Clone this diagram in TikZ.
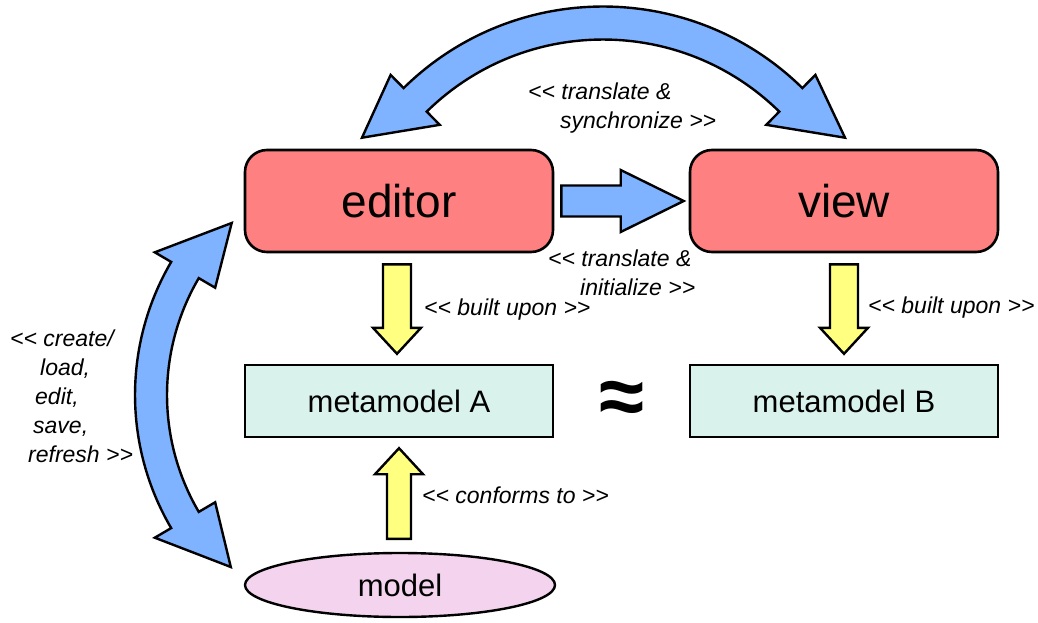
\documentclass[tikz,border=0pt]{standalone}
\usepackage{fontspec}
\setmainfont{Liberation Sans}
\usetikzlibrary{calc, positioning, shapes.geometric}

\definecolor{toolred}{HTML}{FF8080}
\definecolor{metamint}{HTML}{DAF2EC}
\definecolor{modelpink}{HTML}{F3D3EE}
\definecolor{arrowblue}{HTML}{80B3FF}
\definecolor{arrowyellow}{HTML}{FFFF80}

% straight block arrow: style, start, tip, shaft half width, head half width, head length
\newcommand{\blockarrow}[6]{%
	\coordinate (ba-s) at #2;
	\coordinate (ba-t) at #3;
	\coordinate (ba-h) at ($(ba-t)!#6!(ba-s)$);
	\filldraw[#1] ($(ba-s)!#4!90:(ba-t)$) -- ($(ba-h)!#4!90:(ba-t)$) -- ($(ba-h)!#5!90:(ba-t)$)
		-- (ba-t) -- ($(ba-h)!#5!-90:(ba-t)$) -- ($(ba-h)!#4!-90:(ba-t)$) -- ($(ba-s)!#4!-90:(ba-t)$) -- cycle;
}

\tikzset{
	tool/.style={draw, line width=2.6pt, rounded corners=22pt, fill=toolred,
		minimum width=308pt, minimum height=102pt, font=\fontsize{46}{50}\selectfont},
	meta/.style={draw, line width=2.4pt, fill=metamint,
		minimum width=308pt, minimum height=72pt, font=\fontsize{31}{36}\selectfont},
	stereo/.style={font=\fontsize{23}{29}\selectfont\itshape, align=left, inner sep=0pt, anchor=west},
	bluearrow/.style={draw, line width=2.4pt, fill=arrowblue},
	yellowarrow/.style={draw, line width=2.4pt, fill=arrowyellow},
}

\begin{document}
\begin{tikzpicture}[x=1pt, y=-1pt]
	\useasboundingbox (0,0) rectangle (1038,623);

	\node[tool] (editor) at (399,201) {editor};
	\node[tool] (view) at (844,201) {view};
	\node[meta] (metaA) at (399,401) {metamodel A};
	\node[meta] (metaB) at (844,401) {metamodel B};
	\node[ellipse, draw, line width=2.4pt, fill=modelpink, minimum width=310pt, minimum height=64pt,
		font=\fontsize{31}{36}\selectfont] (model) at (400,585) {model};
	\node[font=\fontsize{82}{82}\selectfont\bfseries] (approx) at (622,403) {≈};

	% translate & synchronize
	\coordinate (edtip) at ($(editor.north)+(-37,-11)$);
	\coordinate (vwtip) at ($(view.north)+(1,-11)$);
	\coordinate (topc) at (603,291);
	\filldraw[bluearrow] ($(topc)+(225.5:284.5)$) arc[start angle=225.5, end angle=314.5, radius=284.5]
		-- ($(topc)+(314.5:303)$) -- (vwtip) -- ($(topc)+(314.5:233)$) -- ($(topc)+(314.5:251.5)$)
		arc[start angle=314.5, end angle=225.5, radius=251.5]
		-- ($(topc)+(225.5:233)$) -- (edtip) -- ($(topc)+(225.5:303)$) -- cycle;

	% create/load, edit, save, refresh
	\coordinate (uptip) at ($(editor.west)+(-12,22)$);
	\coordinate (lowtip) at ($(model.west)+(-13,-18)$);
	\coordinate (leftc) at (398,395);
	\filldraw[bluearrow] ($(leftc)+(149.6:263)$) arc[start angle=149.6, end angle=210.4, radius=263]
		-- ($(leftc)+(210.4:282)$) -- (uptip) -- ($(leftc)+(210.4:212)$) -- ($(leftc)+(210.4:231)$)
		arc[start angle=210.4, end angle=149.6, radius=231]
		-- ($(leftc)+(149.6:212)$) -- (lowtip) -- ($(leftc)+(149.6:282)$) -- cycle;

	\blockarrow{bluearrow}{($(editor.east)+(7,0)$)}{($(view.west)+(-5,0)$)}{15.5pt}{31pt}{63pt}
	\blockarrow{yellowarrow}{($(editor.south)+(-2,11)$)}{($(metaA.north)+(-2,-10)$)}{14pt}{24pt}{26pt}
	\blockarrow{yellowarrow}{($(view.south)+(0,11)$)}{($(metaB.north)+(0,-10)$)}{14pt}{24pt}{26pt}
	\blockarrow{yellowarrow}{($(model.north)+(-1,-13)$)}{($(metaA.south)+(0,10)$)}{12pt}{24pt}{26pt}

	\node[stereo] (sync) at (528,108) {<{}< translate \&\\\hspace*{32pt}synchronize >{}>};
	\node[stereo] (init) at (548,273) {<{}< translate \&\\\hspace*{32pt}initialize >{}>};
	\node[stereo] (builtA) at (424,310) {<{}< built upon >{}>};
	\node[stereo] (builtB) at (868,308) {<{}< built upon >{}>};
	\node[stereo] (conforms) at (422,495) {<{}< conforms to >{}>};
	\node[stereo] (usage) at (10,396) {<{}< create/\\\hspace*{30pt}load,\\\hspace*{25pt}edit,\\\hspace*{23pt}save,\\\hspace*{18pt}refresh >{}>};
\end{tikzpicture}
\end{document}
